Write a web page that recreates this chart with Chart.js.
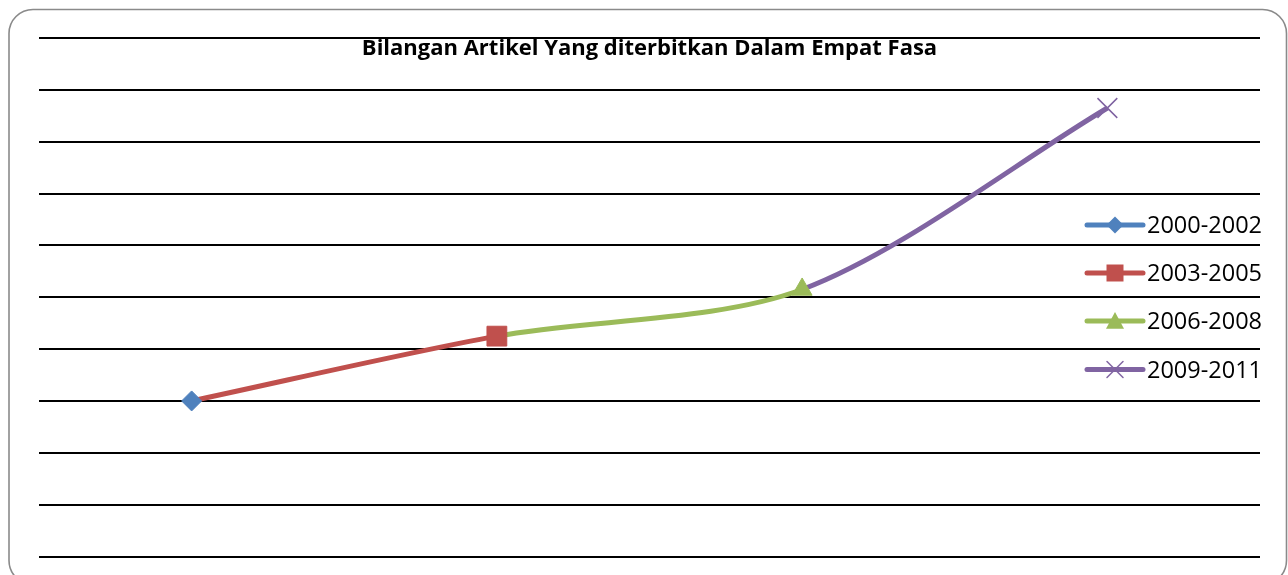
<!DOCTYPE html>
<html>
<head>
<meta charset="utf-8">
<script src="https://cdn.jsdelivr.net/npm/chart.js@4/dist/chart.umd.min.js"></script>
<style>
  html, body { margin: 0; padding: 0; background: #fff; }
  #wrap { width: 1288px; height: 575px; }
</style>
</head>
<body>
<div id="wrap"><canvas id="c" width="1288" height="575"></canvas></div>
<script>
// ---- data ----
const chartTitle = 'Bilangan Artikel Yang diterbitkan Dalam Empat Fasa';
const categories = ['2000-2002', '2003-2005', '2006-2008', '2009-2011'];
const seriesNames = ['2000-2002', '2003-2005', '2006-2008', '2009-2011'];
const articleCounts = [30, 42.5, 51.5, 86.5];
const yMin = 0;
const yMax = 100;
const yStep = 10;

// ---- styles ----
const seriesColors = ['#4F81BD', '#C0504D', '#9BBB59', '#8064A2'];
const seriesMarkers = ['rectRot', 'rect', 'triangle', 'crossRot'];
const markerRadius = [10, 14, 11.5, 14];

const datasets = seriesNames.map((name, i) => ({
  label: name,
  data: articleCounts,
  borderColor: seriesColors[i],
  backgroundColor: seriesColors[i],
  borderWidth: 5,
  tension: 0.3,
  showLine: i > 0,
  segment: {
    borderColor: ctx => (ctx.p1DataIndex === i ? seriesColors[i] : 'rgba(0,0,0,0)')
  },
  pointStyle: seriesMarkers[i],
  pointRadius: ctx => (ctx.dataIndex === i ? markerRadius[i] : 0),
  pointHoverRadius: ctx => (ctx.dataIndex === i ? markerRadius[i] : 0),
  pointBackgroundColor: seriesColors[i],
  pointBorderColor: seriesColors[i],
  pointBorderWidth: i === 3 ? 1.5 : 1
}));

function drawMarker(ctx, style, x, y, r, color) {
  ctx.save();
  ctx.fillStyle = color;
  ctx.strokeStyle = color;
  ctx.beginPath();
  if (style === 'rectRot') {
    ctx.moveTo(x, y - r); ctx.lineTo(x + r, y); ctx.lineTo(x, y + r); ctx.lineTo(x - r, y); ctx.closePath();
    ctx.fill();
  } else if (style === 'rect') {
    ctx.rect(x - r, y - r, 2 * r, 2 * r);
    ctx.fill();
  } else if (style === 'triangle') {
    ctx.moveTo(x, y - r); ctx.lineTo(x + r, y + r * 0.85); ctx.lineTo(x - r, y + r * 0.85); ctx.closePath();
    ctx.fill();
  } else if (style === 'crossRot') {
    ctx.lineWidth = 1.5;
    ctx.moveTo(x - r, y - r); ctx.lineTo(x + r, y + r);
    ctx.moveTo(x + r, y - r); ctx.lineTo(x - r, y + r);
    ctx.stroke();
  }
  ctx.restore();
}

const decorPlugin = {
  id: 'decor',
  beforeDraw(chart) {
    const ctx = chart.ctx;
    ctx.save();
    ctx.fillStyle = '#ffffff';
    ctx.fillRect(0, 0, chart.width, chart.height);
    // rounded outer frame
    const x = 9, y = 9.5, w = 1277.5, h = 575, r = 24;
    ctx.beginPath();
    ctx.moveTo(x + r, y);
    ctx.lineTo(x + w - r, y);
    ctx.arcTo(x + w, y, x + w, y + r, r);
    ctx.lineTo(x + w, y + h - r);
    ctx.arcTo(x + w, y + h, x + w - r, y + h, r);
    ctx.lineTo(x + r, y + h);
    ctx.arcTo(x, y + h, x, y + h - r, r);
    ctx.lineTo(x, y + r);
    ctx.arcTo(x, y, x + r, y, r);
    ctx.closePath();
    ctx.strokeStyle = '#8a8a8a';
    ctx.lineWidth = 1.6;
    ctx.stroke();
    ctx.restore();
  },
  afterDraw(chart) {
    const ctx = chart.ctx;
    const area = chart.chartArea;
    ctx.save();
    // title
    ctx.fillStyle = '#000';
    ctx.font = 'bold 22px "Open Sans"';
    ctx.textAlign = 'center';
    ctx.textBaseline = 'alphabetic';
    ctx.fillText(chartTitle, (area.left + area.right) / 2, 55);
    // legend
    const lx0 = 1087, lx1 = 1143, mx = 1115, tx = 1147;
    const rowY = [225, 273, 321, 369.5];
    ctx.font = '23.5px "Open Sans"';
    ctx.textAlign = 'left';
    chart.data.datasets.forEach((ds, i) => {
      const yy = rowY[i];
      ctx.strokeStyle = seriesColors[i];
      ctx.lineWidth = 5;
      ctx.lineCap = 'round';
      ctx.beginPath();
      ctx.moveTo(lx0, yy);
      ctx.lineTo(lx1, yy);
      ctx.stroke();
      const rr = [8.5, 8.5, 9, 8][i];
      drawMarker(ctx, seriesMarkers[i], mx, yy, rr, seriesColors[i]);
      ctx.fillStyle = '#000';
      ctx.fillText(ds.label, tx, yy + 8.3);
    });
    ctx.restore();
  }
};

new Chart(document.getElementById('c'), {
  type: 'line',
  data: { labels: categories, datasets: datasets },
  options: {
    responsive: false,
    animation: false,
    events: [],
    layout: { padding: { left: 39, right: 28, top: 38, bottom: 18.5 } },
    plugins: {
      legend: { display: false },
      title: { display: false },
      tooltip: { enabled: false }
    },
    scales: {
      x: {
        type: 'category',
        offset: true,
        display: false
      },
      y: {
        min: yMin,
        max: yMax,
        ticks: { stepSize: yStep, display: false },
        border: { display: false },
        grid: { color: '#000', lineWidth: 2, drawTicks: false }
      }
    }
  },
  plugins: [decorPlugin]
});
</script>
</body>
</html>
